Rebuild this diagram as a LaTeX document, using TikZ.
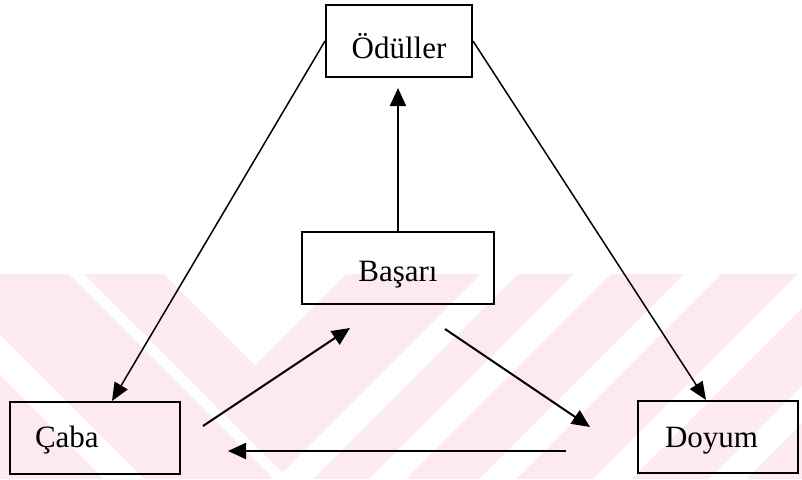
\documentclass[tikz,border=0pt]{standalone}
\usepackage{fontspec}
\setmainfont{Liberation Serif}
\usetikzlibrary{arrows.meta,calc}
\definecolor{wmpink}{RGB}{252,234,238}
\newcommand\wmfwd[2]{\fill[white] ({#1-274},274) -- ({#2-274},274) -- ({#2-479},479) -- ({#1-479},479) -- cycle;}
\newcommand\wmback[2]{\fill[white] ({#1+274},274) -- ({#2+274},274) -- ({#2+479},479) -- ({#1+479},479) -- cycle;}
\begin{document}
\begin{tikzpicture}[x=1pt,y=-1pt,
  box/.style={draw,line width=2pt,minimum height=72pt,inner sep=0pt,
    font=\fontsize{31}{36}\selectfont,text depth=0pt},
  arr/.style={line width=2pt,-{Triangle[length=18pt,width=16pt]}},
  longarr/.style={line width=1.5pt,-{Triangle[length=18pt,width=15pt]}}]
\useasboundingbox (0,0) rectangle (802,479);
\fill[white] (0,0) rectangle (802,479);
% watermark
\begin{scope}
  \clip (0,274) rectangle (802,479);
  \fill[wmpink] (0,274) rectangle (802,479);
  \fill[white] (164,274) -- (346,274) -- (255,365) -- cycle;
  \wmback{-205}{-190}
  \wmback{-375}{-335}
  \wmfwd{755}{792}
  \wmfwd{848}{885}
  \wmfwd{958}{995}
  \wmfwd{1072}{1110}
  \wmfwd{1188}{1225}
\end{scope}
% boxes
\node[box,minimum width=146pt,text height=34pt] (od) at (399,41) {Ödüller};
\node[box,minimum width=192pt,text height=26pt] (bs) at (398,268) {Başarı};
\node[box,text height=18pt,text width=120pt,align=left,inner xsep=25pt] (cb) at (95,438) {Çaba};
\node[box,text height=20pt,text width=106pt,align=left,inner xsep=27pt] (dy) at (718,437) {Doyum};
% free ends
\coordinate (c1) at (203,426);
\coordinate (b1) at (350,328);
\coordinate (b2) at (445,329);
\coordinate (d1) at (590,427);
\coordinate (d2) at (566,451);
\coordinate (c2) at (228,451);
% connectors
\draw[longarr] (od.west) -- ([xshift=17pt]cb.north);
\draw[longarr] (od.east) -- ([xshift=-12pt]dy.north);
\draw[arr,shorten >=10pt] (bs.north) -- (bs.north |- od.south);
\draw[arr] (c1) -- (b1);
\draw[arr] (b2) -- (d1);
\draw[arr] (d2) -- (c2);
\end{tikzpicture}
\end{document}
